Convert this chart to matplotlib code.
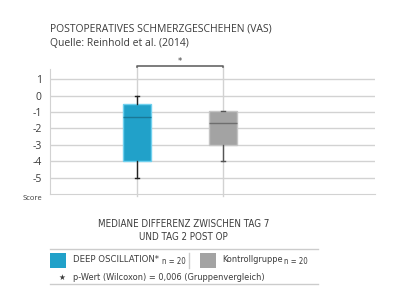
import matplotlib
matplotlib.use("Agg")
import matplotlib.pyplot as plt
from matplotlib.patches import Rectangle
from matplotlib.lines import Line2D

# ---- data ----
groups = ["DEEP OSCILLATION", "Kontrollgruppe"]
medians = [-1.32, -1.68]
q1 = [-4.0, -3.0]
q3 = [-0.5, -0.95]
whis_lo = [-5.0, -4.0]
whis_hi = [0.0, -0.95]
n_values = [20, 20]
yticks = [1, 0, -1, -2, -3, -4, -5]
p_value_text = "p-Wert (Wilcoxon) = 0,006 (Gruppenvergleich)"

box_colors = ["#21a1c9", "#a3a3a3"]
edge_colors = ["#6fd0ee", "#c4c4c4"]
median_colors = ["#1a7896", "#6e6e6e"]
whisker_colors = ["#222222", "#555555"]
text_col = "#3c3c3c"
grid_col = "#d2d2d2"

W, H = 398, 297
fig = plt.figure(figsize=(W / 100, H / 100), dpi=100)
fig.patch.set_facecolor("white")

def fx(px):
    return px / W

def fy(py):
    return 1 - py / H

ax_left, ax_right, ax_top, ax_bottom = 50, 375, 69.4, 194
ax = fig.add_axes([fx(ax_left), fy(ax_bottom), fx(ax_right - ax_left), (ax_bottom - ax_top) / H])
ax.set_xlim(-0.01, 3.77)
ax.set_ylim(-6, 1.6)

for y in yticks:
    ax.axhline(y, color=grid_col, lw=1.0, zorder=0)

positions = [1, 2]
for p in positions:
    ax.add_line(Line2D([p, p], [-6.13, 1.8], color=grid_col, lw=1.0, zorder=0, clip_on=False))

stats = []
for i in range(2):
    stats.append(dict(med=medians[i], q1=q1[i], q3=q3[i], whislo=whis_lo[i], whishi=whis_hi[i], fliers=[]))

for i in range(2):
    ax.bxp([stats[i]], positions=[positions[i]], widths=0.32, patch_artist=True, showfliers=False,
           capwidths=0.05,
           boxprops=dict(facecolor=box_colors[i], edgecolor=edge_colors[i], lw=1.0),
           medianprops=dict(color=median_colors[i], lw=1.0),
           whiskerprops=dict(color=whisker_colors[i], lw=1.0),
           capprops=dict(color=whisker_colors[i], lw=1.0),
           manage_ticks=False)

# significance bracket
ax.add_line(Line2D([1, 1, 2, 2], [1.72, 1.8, 1.8, 1.72], color="#666666", lw=1.2, clip_on=False))
ax.text(1.5, 1.82, "*", ha="center", va="bottom", fontsize=6, color=text_col, clip_on=False)

for s in ["top", "right"]:
    ax.spines[s].set_visible(False)
ax.spines["left"].set_color(grid_col)
ax.spines["bottom"].set_color(grid_col)
ax.set_yticks(yticks)
ax.set_yticklabels([str(v) for v in yticks], fontsize=7.5, color=text_col, family="Open Sans")
ax.tick_params(axis="y", length=0, pad=6)
ax.set_xticks([])

fig.text(fx(23), fy(199), "Score", fontsize=5.5, color=text_col, va="center", ha="left", family="Open Sans")

# title
fig.text(fx(50), fy(29), "POSTOPERATIVES SCHMERZGESCHEHEN (VAS)", fontsize=7.5, color=text_col,
         va="center", ha="left", family="Open Sans")
fig.text(fx(50), fy(43), "Quelle: Reinhold et al. (2014)", fontsize=7.5, color=text_col,
         va="center", ha="left", family="Open Sans")

cond = dict(family="DejaVu Sans", fontstretch="condensed")
fig.text(fx(183.5), fy(224), "MEDIANE DIFFERENZ ZWISCHEN TAG 7", fontsize=7.0, color=text_col,
         va="center", ha="center", **cond)
fig.text(fx(183.5), fy(237), "UND TAG 2 POST OP", fontsize=7.0, color=text_col,
         va="center", ha="center", **cond)

# legend box
fig.add_artist(Line2D([fx(50), fx(318)], [fy(248.7), fy(248.7)], color="#cccccc", lw=1.0))
fig.add_artist(Line2D([fx(50), fx(318)], [fy(284.3), fy(284.3)], color="#cccccc", lw=1.0))
fig.add_artist(Rectangle((fx(50), fy(268.3)), fx(16), 15.6 / H, facecolor=box_colors[0], edgecolor="none"))
fig.add_artist(Rectangle((fx(200), fy(268.3)), fx(16), 15.6 / H, facecolor=box_colors[1], edgecolor="none"))
fig.add_artist(Line2D([fx(188.5), fx(188.5)], [fy(253), fy(268)], color="#cccccc", lw=1.0))

fig.text(fx(73), fy(260), groups[0] + "*", fontsize=6.8, color=text_col, va="center", ha="left", **cond)
fig.text(fx(162), fy(261), f"n = {n_values[0]}", fontsize=5.6, color=text_col, va="center", ha="left", **cond)
fig.text(fx(222), fy(260), groups[1], fontsize=6.6, color=text_col, va="center", ha="left", **cond)
fig.text(fx(284), fy(261), f"n = {n_values[1]}", fontsize=5.6, color=text_col, va="center", ha="left", **cond)
fig.text(fx(62), fy(277.5), "\u2605", fontsize=5.5, color=text_col, va="center", ha="center", family="DejaVu Sans")
fig.text(fx(73), fy(277), p_value_text, fontsize=6.6, color=text_col, va="center", ha="left", **cond)

fig.savefig("out.png", dpi=100, facecolor="white")
